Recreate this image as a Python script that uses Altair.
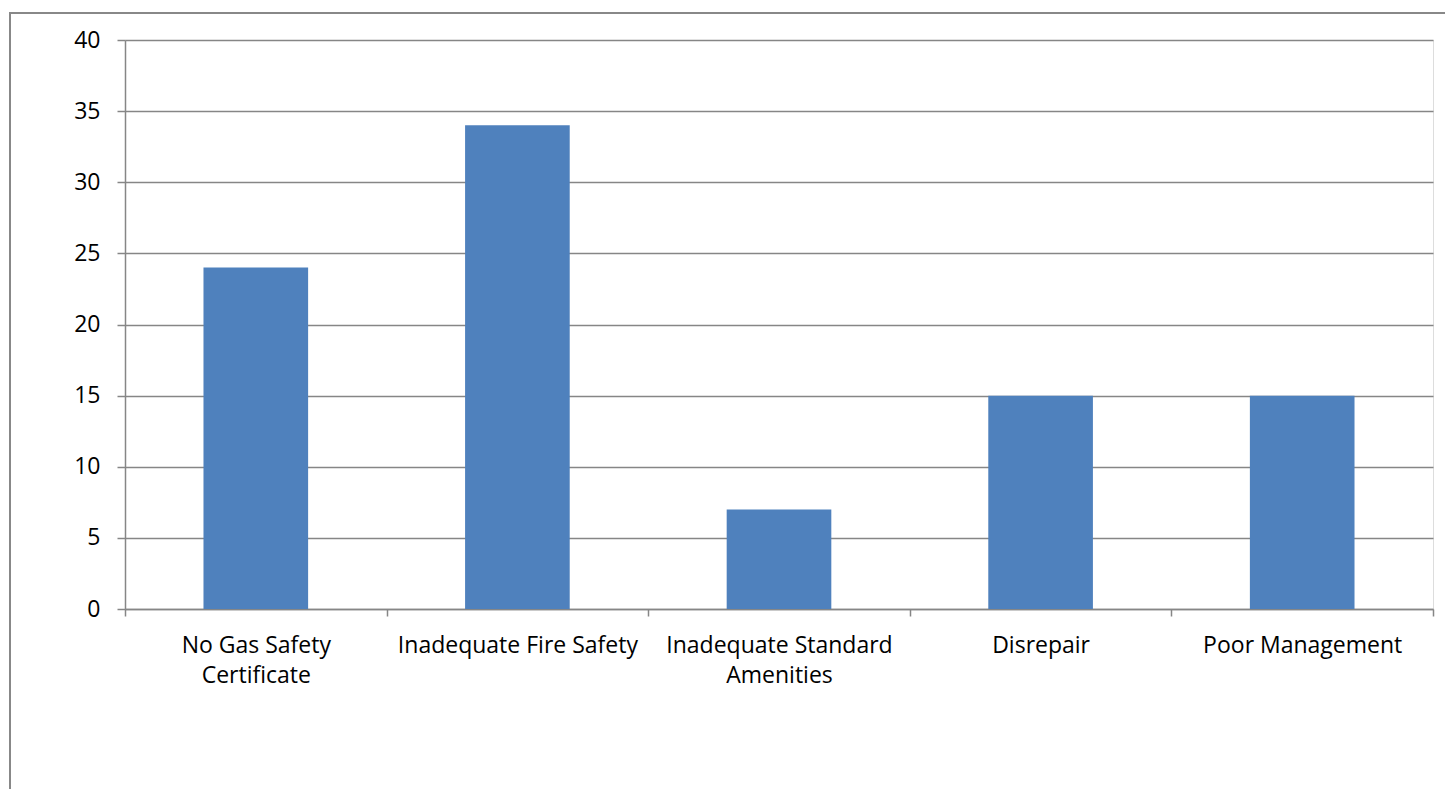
import altair as alt
import pandas as pd

# Housing enforcement categories and counts
categories = [
    "No Gas Safety Certificate",
    "Inadequate Fire Safety",
    "Inadequate Standard Amenities",
    "Disrepair",
    "Poor Management",
]
counts = [24, 34, 7, 15, 15]

df = pd.DataFrame({"category": categories, "count": counts})

GRID = "#868686"
FONT = "Open Sans"

label_expr = (
    "datum.label == 'No Gas Safety Certificate' ? ['No Gas Safety', 'Certificate'] : "
    "datum.label == 'Inadequate Standard Amenities' ? ['Inadequate Standard', 'Amenities'] : "
    "datum.label"
)

bars = (
    alt.Chart(df)
    .mark_bar(color="#4F81BD", width=alt.RelativeBandSize(0.4))
    .encode(
        x=alt.X(
            "category:N",
            sort=categories,
            title=None,
            scale=alt.Scale(paddingInner=0, paddingOuter=0),
            axis=alt.Axis(
                labelAngle=0,
                labelExpr=label_expr,
                labelFont=FONT,
                labelFontSize=23,
                labelColor="#000000",
                labelPadding=18,
                labelLineHeight=30,
                labelLimit=400,
                tickBand="extent",
                tickSize=7,
                tickColor=GRID,
                tickWidth=1.5,
                domainColor=GRID,
                domainWidth=1.5,
                grid=False,
            ),
        ),
        y=alt.Y(
            "count:Q",
            title=None,
            scale=alt.Scale(domain=[0, 40]),
            axis=alt.Axis(
                values=[0, 5, 10, 15, 20, 25, 30, 35, 40],
                labelFont=FONT,
                labelFontSize=23,
                labelColor="#000000",
                labelPadding=17,
                tickSize=8,
                tickColor=GRID,
                tickWidth=1.5,
                domainColor=GRID,
                domainWidth=1.5,
                grid=True,
                gridColor=GRID,
                gridWidth=1.5,
            ),
        ),
    )
)

# Outer chart frame
frame = (
    alt.Chart(pd.DataFrame({"k": [0]}))
    .mark_rect(fill=None, stroke="#888888", strokeWidth=2)
    .encode(
        x=alt.value(-115),
        x2=alt.value(1340),
        y=alt.value(-27),
        y2=alt.value(800),
    )
)

chart = (
    alt.layer(frame, bars)
    .properties(
        width=1308,
        height=569,
        autosize=alt.AutoSizeParams(type="none"),
        padding={"left": 125, "top": 40, "right": 12, "bottom": 180},
    )
    .configure_view(stroke=None)
    .configure(background="white")
)

chart.save("out.html", embed_options={"renderer": "svg", "actions": False})
